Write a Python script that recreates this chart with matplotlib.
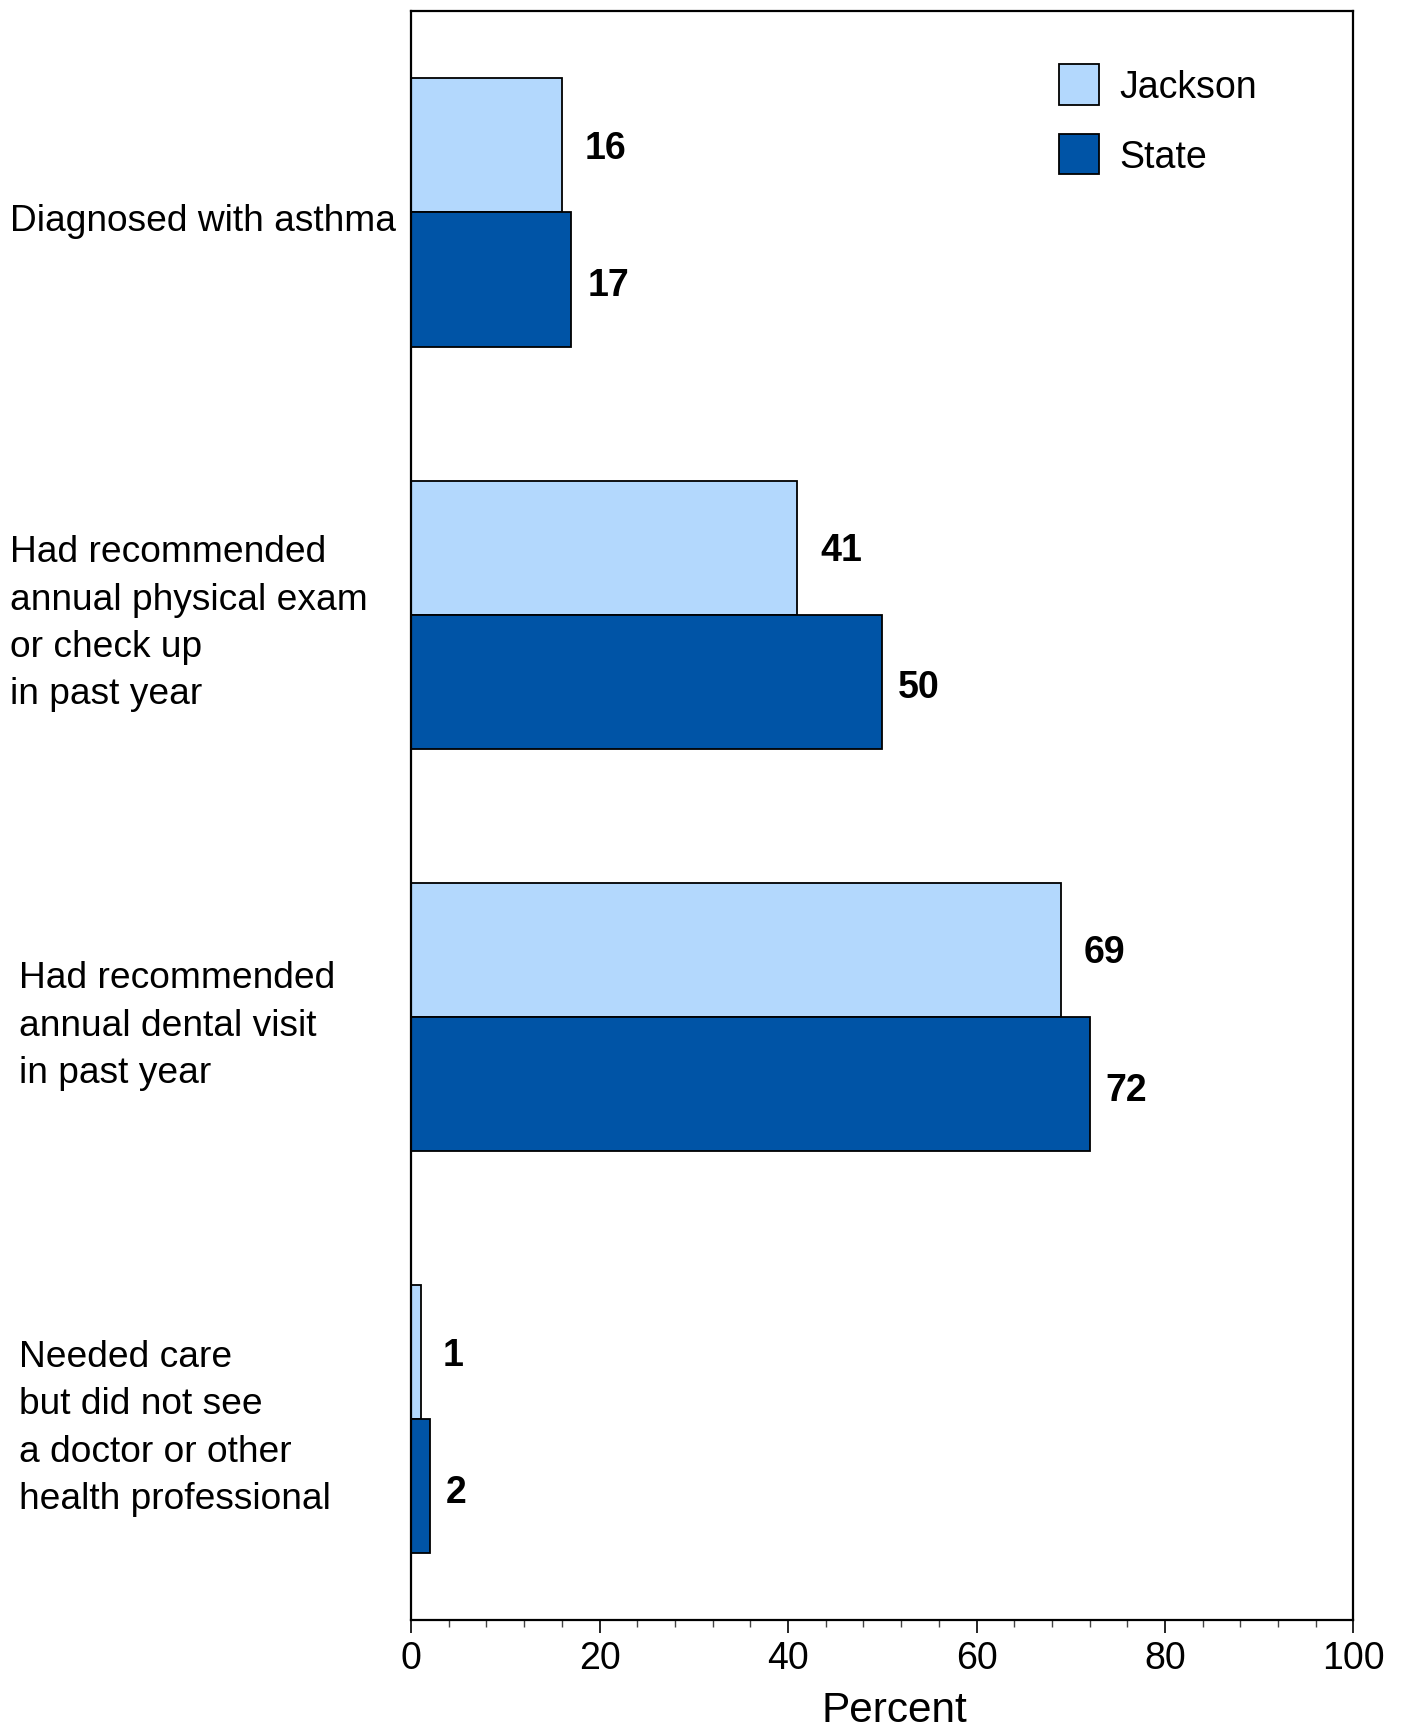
import matplotlib.pyplot as plt
from matplotlib.ticker import MultipleLocator
import matplotlib.transforms as mtransforms
import numpy as np

plt.rcParams['font.family'] = ['Liberation Sans', 'DejaVu Sans']

categories = [
    "Diagnosed with asthma",
    "Had recommended\nannual physical exam\nor check up\nin past year",
    "Had recommended\nannual dental visit\nin past year",
    "Needed care\nbut did not see\na doctor or other\nhealth professional",
]
label_x = [0.007, 0.007, 0.0135, 0.0135]
jackson = [16, 41, 69, 1]
state = [17, 50, 72, 2]
series_names = ["Jackson", "State"]

light = '#b3d8fd'
dark = '#0054a6'

fig = plt.figure(figsize=(14.03, 17.31), dpi=100)
ax = fig.add_axes([0.293, 0.0633, 0.6717, 0.9296])

y = np.arange(len(categories))
h = 1 / 3
ax.barh(y - h / 2, jackson, height=h, color=light, edgecolor='black', linewidth=1.3, label=series_names[0])
ax.barh(y + h / 2, state, height=h, color=dark, edgecolor='black', linewidth=1.3, label=series_names[1])

# value labels to the right of each bar
for i in range(len(categories)):
    ax.text(jackson[i] + 2.4, y[i] - h / 2 + 0.006, str(jackson[i]), ha='left', va='center',
            fontsize=27, fontweight='bold')
    ax.text(state[i] + 1.7, y[i] + h / 2 + 0.014, str(state[i]), ha='left', va='center',
            fontsize=27, fontweight='bold')

# category labels are left aligned at the figure edge
trans = mtransforms.blended_transform_factory(fig.transFigure, ax.transData)
for i, cat in enumerate(categories):
    ax.text(label_x[i], y[i] + 0.02, cat, transform=trans, ha='left', va='center',
            fontsize=26.7, linespacing=1.46)

ax.set_xlim(0, 100)
ax.set_ylim(3.5, -0.5)
ax.set_yticks([])
ax.xaxis.set_major_locator(MultipleLocator(20))
ax.xaxis.set_minor_locator(MultipleLocator(4))
ax.tick_params(axis='x', which='major', length=9, width=1.2, pad=5, labelsize=27)
ax.tick_params(axis='x', which='minor', length=5, width=1.0, color='#444444')
for sp in ax.spines.values():
    sp.set_linewidth(1.6)
ax.set_xlabel("Percent", fontsize=30.5, labelpad=10)
ax.xaxis.label.set_x(0.513)

ax.legend(loc='upper left', bbox_to_anchor=(0.688, 0.967), frameon=False,
          fontsize=27, handlelength=1.05, handleheight=1.3, handletextpad=0.55,
          labelspacing=0.75, borderpad=0, borderaxespad=0)

fig.savefig('out.png', dpi=100)
